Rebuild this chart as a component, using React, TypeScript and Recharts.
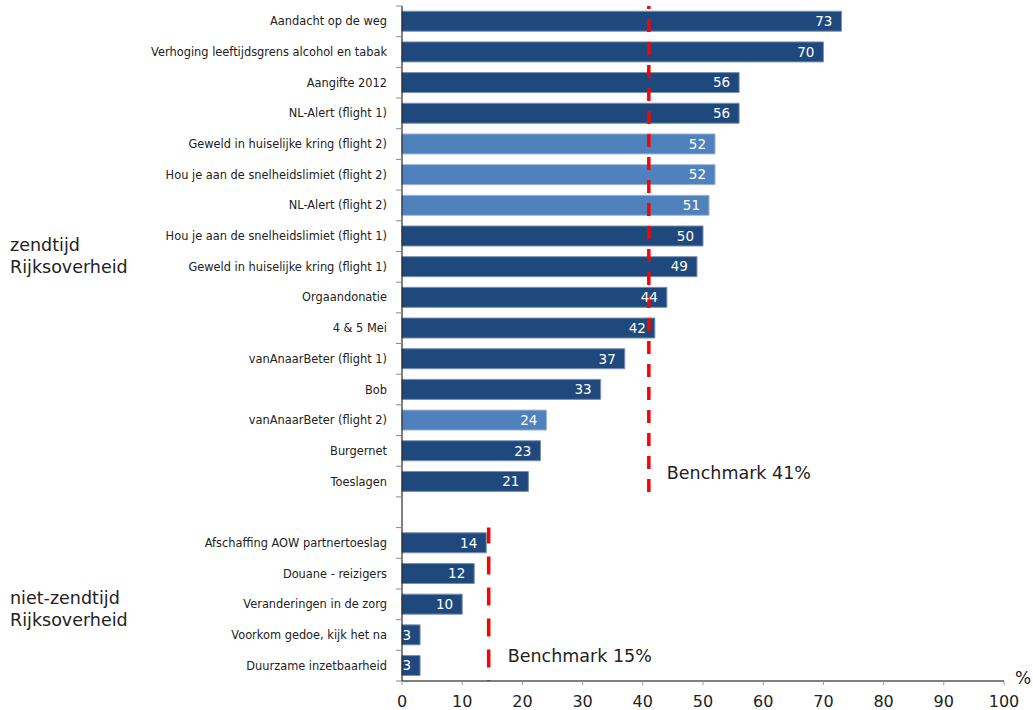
import { BarChart, Bar, XAxis, YAxis, ReferenceLine, Cell, LabelList } from 'recharts';

// campaign names, top to bottom ('' = empty spacer row between the groups)
const campaigns = [
  'Aandacht op de weg',
  'Verhoging leeftijdsgrens alcohol en tabak',
  'Aangifte 2012',
  'NL-Alert (flight 1)',
  'Geweld in huiselijke kring (flight 2)',
  'Hou je aan de snelheidslimiet (flight 2)',
  'NL-Alert (flight 2)',
  'Hou je aan de snelheidslimiet (flight 1)',
  'Geweld in huiselijke kring (flight 1)',
  'Orgaandonatie',
  '4 & 5 Mei',
  'vanAnaarBeter (flight 1)',
  'Bob',
  'vanAnaarBeter (flight 2)',
  'Burgernet',
  'Toeslagen',
  '',
  'Afschaffing AOW partnertoeslag',
  'Douane - reizigers',
  'Veranderingen in de zorg',
  'Voorkom gedoe, kijk het na',
  'Duurzame inzetbaarheid',
];

const scores = [73, 70, 56, 56, 52, 52, 51, 50, 49, 44, 42, 37, 33, 24, 23, 21, null, 14, 12, 10, 3, 3];

const secondFlights = [
  'Geweld in huiselijke kring (flight 2)',
  'Hou je aan de snelheidslimiet (flight 2)',
  'NL-Alert (flight 2)',
  'vanAnaarBeter (flight 2)',
];

const xTicks = [0, 10, 20, 30, 40, 50, 60, 70, 80, 90, 100];

const benchmarkZendtijd = 41;
const benchmarkNietZendtijd = 14.4;

const data = campaigns.map((name, i) => ({ name, score: scores[i] }));

const DARK = '#1F497D';
const LIGHT = '#4F81BD';
const FONT = '"DejaVu Sans", Verdana, sans-serif';
const ROW = 675 / campaigns.length;

// category label plus a small tick mark on the boundary between rows
function CategoryTick(props: any) {
  const { x, y, payload, index } = props;
  const axisX = x + 15;
  const isLast = index === campaigns.length - 1;
  return (
    <g>
      <line x1={axisX - 6} x2={axisX} y1={y - ROW / 2} y2={y - ROW / 2} stroke="#888" />
      {isLast && <line x1={axisX - 6} x2={axisX} y1={y + ROW / 2} y2={y + ROW / 2} stroke="#888" />}
      <text x={x} y={y} dy={4} textAnchor="end" fontSize={11.4} fill="#222" fontFamily={FONT}>
        {payload.value}
      </text>
    </g>
  );
}

export default function App() {
  return (
    <div style={{ position: 'absolute', left: 0, top: 0, width: 1033, height: 710, fontFamily: FONT }}>
      <BarChart
        width={1033}
        height={710}
        data={data}
        layout="vertical"
        barCategoryGap="17%"
        margin={{ top: 6, right: 29, bottom: 0, left: 0 }}
      >
        <YAxis
          type="category"
          dataKey="name"
          width={402}
          interval={0}
          tickSize={5}
          tickMargin={10}
          tickLine={false}
          axisLine={{ stroke: '#000' }}
          tick={<CategoryTick />}
        />
        <XAxis
          type="number"
          domain={[0, 100]}
          ticks={xTicks}
          interval={0}
          height={29}
          tickSize={4}
          tickMargin={11}
          tickLine={{ stroke: '#999' }}
          axisLine={{ stroke: '#000' }}
          tick={{ fontSize: 16, fill: '#222', fontFamily: FONT }}
        />
        <Bar dataKey="score" isAnimationActive={false}>
          {data.map((d) => {
            const light = secondFlights.includes(d.name);
            return (
              <Cell
                key={d.name || 'gap'}
                fill={light ? LIGHT : DARK}
                stroke={light ? '#9db6d8' : '#7891b5'}
                strokeWidth={1}
              />
            );
          })}
          <LabelList
            dataKey="score"
            position="insideRight"
            offset={9}
            fill="#fff"
            fontSize={13.5}
            fontFamily={FONT}
            formatter={(v: any) => (v == null ? '' : v)}
          />
        </Bar>
        <ReferenceLine
          position="start"
          segment={[{ x: benchmarkZendtijd, y: campaigns[0] }, { x: benchmarkZendtijd, y: '' }]}
          stroke="#ff0000"
          strokeWidth={3.5}
          strokeDasharray="13 10"
          strokeDashoffset={10}
          label={{ value: 'Benchmark 41%', position: 'insideBottomLeft', offset: 18, fill: '#222', fontSize: 17.5, fontFamily: FONT }}
        />
        <ReferenceLine
          position="end"
          segment={[{ x: benchmarkNietZendtijd, y: '' }, { x: benchmarkNietZendtijd, y: campaigns[campaigns.length - 1] }]}
          stroke="#ff0000"
          strokeWidth={3.5}
          strokeDasharray="18 13"
          strokeDashoffset={2}
          label={{ value: 'Benchmark 15%', position: 'insideBottomLeft', offset: 19, fill: '#222', fontSize: 17.5, fontFamily: FONT }}
        />
      </BarChart>
      <div style={{ position: 'absolute', left: 10, top: 234, fontSize: 17.5, lineHeight: '22px', color: '#222' }}>
        zendtijd<br />Rijksoverheid
      </div>
      <div style={{ position: 'absolute', left: 10, top: 587, fontSize: 17.5, lineHeight: '22px', color: '#222' }}>
        niet-zendtijd<br />Rijksoverheid
      </div>
      <div style={{ position: 'absolute', left: 1015, top: 668, fontSize: 17, color: '#222' }}>%</div>
    </div>
  );
}
